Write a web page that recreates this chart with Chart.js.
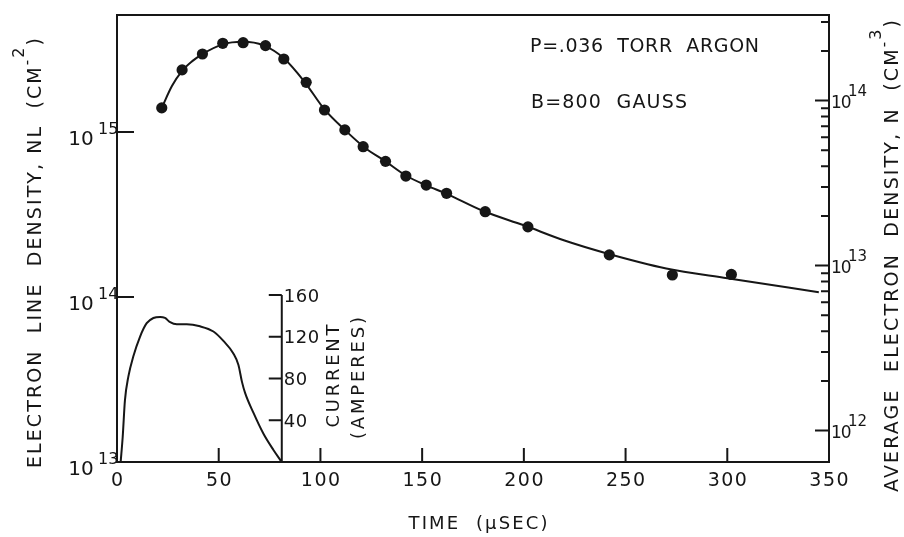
<!DOCTYPE html>
<html><head><meta charset="utf-8">
<script src="https://cdn.jsdelivr.net/npm/chart.js@4/dist/chart.umd.min.js"></script>
<style>html,body{margin:0;padding:0;background:#fff}#wrap{width:904px;height:537px;position:relative}</style>
</head><body><div id="wrap"><canvas id="c" width="904" height="537"></canvas></div>
<script>
// ---- data ----
const timePoints = [22,32,42,52,62,73,82,93,102,112,121,132,142,152,162,181,202,242,273,302];
const lineDensityPoints = [1.40e15,2.38e15,2.97e15,3.45e15,3.48e15,3.34e15,2.77e15,2.00e15,1.36e15,1.03e15,8.15e14,6.64e14,5.41e14,4.77e14,4.25e14,3.29e14,2.66e14,1.80e14,1.36e14,1.37e14];
const fitTimes = [22,27,32,37,42,52,62,72,82,92,102,112,122,132,142,152,162,180,200,220,240,270,300,345];
const fitDensity = [1.40e15,1.90e15,2.35e15,2.69e15,2.97e15,3.40e15,3.52e15,3.35e15,2.80e15,2.03e15,1.37e15,1.03e15,8.0e14,6.64e14,5.45e14,4.75e14,4.22e14,3.32e14,2.72e14,2.2e14,1.85e14,1.49e14,1.30e14,1.07e14];
const currentTimes = [1.8,2.8,3.9,5.6,8.0,11.3,14.6,17.9,21.2,23.6,26.1,29.4,34.3,40.8,47.4,52.3,57.2,59.7,61.4,63,67.1,72,76.9,81];
const currentAmps = [0,24,59,82,101,120,133,138,139,138,134,132,132,130,125,116,104,93,77,66,47,27,11.5,0];
const xTickLabels = [0,50,100,150,200,250,300,350];
const currentTickLabels = [40,80,120,160];
const leftDecades = [13,14,15];
const rightDecades = [12,13,14];
const currentAxisTime = 81;
const pathLength = 15.5; // NL / N (cm)
const annotations = ['P=.036  TORR  ARGON', 'B=800  GAUSS'];

const FAM = "'DejaVu Sans', 'Liberation Sans', sans-serif";
const INK = '#161616';

function drawRich(ctx, parts, o) {
  let n = 0, w0 = 0;
  ctx.letterSpacing = '0px';
  parts.forEach(p => { ctx.font = p.size + 'px ' + FAM; p.w = ctx.measureText(p.text).width; w0 += p.w; n += [...p.text].length; });
  const ls = o.width ? (o.width - w0) / Math.max(1, n - 1) : (o.ls || 0);
  const total = w0 + ls * (n - 1);
  ctx.save();
  ctx.translate(o.x, o.y);
  if (o.rotate) ctx.rotate(o.rotate);
  let x = o.align === 'left' ? 0 : o.align === 'right' ? -total : -total / 2;
  const capMain = 0.729 * parts[0].size;
  ctx.fillStyle = INK;
  ctx.textAlign = 'left';
  ctx.textBaseline = 'alphabetic';
  parts.forEach(p => {
    ctx.font = p.size + 'px ' + FAM;
    ctx.letterSpacing = ls + 'px';
    ctx.fillText(p.text, x, capMain / 2 - (p.rise || 0));
    x += p.w + ls * [...p.text].length;
  });
  ctx.restore();
}

const framePlugin = {
  id: 'frame',
  afterDraw(chart) {
    const ctx = chart.ctx, ca = chart.chartArea, s = chart.scales;
    ctx.save();
    ctx.strokeStyle = INK; ctx.lineWidth = 2; ctx.lineCap = 'butt';
    ctx.strokeRect(ca.left, ca.top, ca.right - ca.left, ca.bottom - ca.top);
    ctx.beginPath();
    // x ticks (inward)
    xTickLabels.forEach(v => {
      if (v <= 0 || v >= 350) return;
      const px = s.x.getPixelForValue(v);
      ctx.moveTo(px, ca.bottom); ctx.lineTo(px, ca.bottom - 14);
    });
    // left decade ticks
    leftDecades.forEach(d => {
      const py = s.y.getPixelForValue(Math.pow(10, d));
      if (py < ca.bottom - 1) { ctx.moveTo(ca.left, py); ctx.lineTo(ca.left + 17, py); }
    });
    // right ticks: majors and minors
    const ymax = s.y2.max;
    for (let d = 11; d <= 14; d++) {
      for (let m = 1; m <= 9; m++) {
        const v = m * Math.pow(10, d);
        if (v < 1e12 || v > ymax) continue;
        const py = s.y2.getPixelForValue(v);
        const len = m === 1 ? 14 : 8;
        ctx.moveTo(ca.right, py); ctx.lineTo(ca.right - len, py);
      }
    }
    // current axis
    const cx = s.x.getPixelForValue(currentAxisTime);
    ctx.moveTo(cx, ca.bottom); ctx.lineTo(cx, s.yI.getPixelForValue(160));
    currentTickLabels.forEach(v => {
      const py = s.yI.getPixelForValue(v);
      ctx.moveTo(cx, py); ctx.lineTo(cx - 13, py);
    });
    ctx.stroke();
    ctx.restore();

    // x tick labels
    xTickLabels.forEach(v => {
      drawRich(ctx, [{text: String(v), size: 19}], {x: s.x.getPixelForValue(v), y: 479, ls: 1.5});
    });
    drawRich(ctx, [{text: 'TIME  (\u03bcSEC)', size: 18}], {x: 478, y: 522, width: 139});
    // left decade labels
    leftDecades.forEach(d => {
      const py = s.y.getPixelForValue(Math.pow(10, d));
      drawRich(ctx, [{text: '10', size: 20}], {x: 81, y: py + 6, ls: 0});
      drawRich(ctx, [{text: String(d), size: 16}], {x: 98, y: py - 4, align: 'left', ls: 0});
    });
    // right decade labels
    rightDecades.forEach(d => {
      const py = s.y2.getPixelForValue(Math.pow(10, d));
      drawRich(ctx, [{text: '10', size: 17}], {x: 831, y: py + 1, align: 'left', ls: -1});
      drawRich(ctx, [{text: String(d), size: 15}], {x: 848, y: py - 10, align: 'left', ls: 0});
    });
    // current labels
    currentTickLabels.forEach(v => {
      drawRich(ctx, [{text: String(v), size: 18}], {x: cx + 2, y: s.yI.getPixelForValue(v), align: 'left', ls: 0.5});
    });
    drawRich(ctx, [{text: 'CURRENT', size: 18}], {x: 332.5, y: 376, width: 103, rotate: -Math.PI / 2});
    drawRich(ctx, [{text: '(AMPERES)', size: 18}], {x: 357, y: 378, width: 122, rotate: -Math.PI / 2});
    // axis titles
    drawRich(ctx, [{text: 'ELECTRON  LINE  DENSITY, NL  (CM', size: 19}, {text: '-', size: 15, rise: 9}, {text: '2', size: 16, rise: 17}, {text: ')', size: 19}],
      {x: 34.5, y: 253, width: 430, rotate: -Math.PI / 2});
    drawRich(ctx, [{text: 'AVERAGE  ELECTRON  DENSITY, N  (CM', size: 19}, {text: '-', size: 15, rise: 9}, {text: '3', size: 16, rise: 17}, {text: ')', size: 19}],
      {x: 891, y: 256, width: 472, rotate: -Math.PI / 2});
    // annotations
    drawRich(ctx, [{text: annotations[0], size: 19}], {x: 530, y: 45, width: 229, align: 'left'});
    drawRich(ctx, [{text: annotations[1], size: 19}], {x: 531, y: 101, width: 156, align: 'left'});
  }
};

new Chart(document.getElementById('c'), {
  type: 'scatter',
  data: {
    datasets: [
      {
        label: 'NL data',
        data: timePoints.map((t, i) => ({x: t, y: lineDensityPoints[i]})),
        yAxisID: 'y', showLine: false, pointRadius: 5.6, pointHoverRadius: 5.6,
        backgroundColor: INK, borderColor: INK, borderWidth: 0, order: 1
      },
      {
        label: 'NL fit',
        data: fitTimes.map((t, i) => ({x: t, y: fitDensity[i]})),
        yAxisID: 'y', showLine: true, pointRadius: 0, borderColor: INK, borderWidth: 2,
        cubicInterpolationMode: 'monotone', fill: false, order: 2
      },
      {
        label: 'Current',
        data: currentTimes.map((t, i) => ({x: t, y: currentAmps[i]})),
        yAxisID: 'yI', showLine: true, pointRadius: 0, borderColor: INK, borderWidth: 2,
        cubicInterpolationMode: 'monotone', fill: false, order: 3
      }
    ]
  },
  options: {
    responsive: false, animation: false, devicePixelRatio: 1,
    layout: {padding: {left: 117, right: 75, top: 15, bottom: 75}},
    plugins: {legend: {display: false}, tooltip: {enabled: false}},
    scales: {
      x: {type: 'linear', min: 0, max: 350, display: false},
      y: {type: 'logarithmic', min: 1e13, max: 5.12e15, display: false},
      y2: {type: 'logarithmic', min: 1e13 / pathLength, max: 5.12e15 / pathLength, display: false},
      yI: {type: 'linear', min: 0, max: 428.3, display: false}
    }
  },
  plugins: [framePlugin]
});
</script></body></html>
